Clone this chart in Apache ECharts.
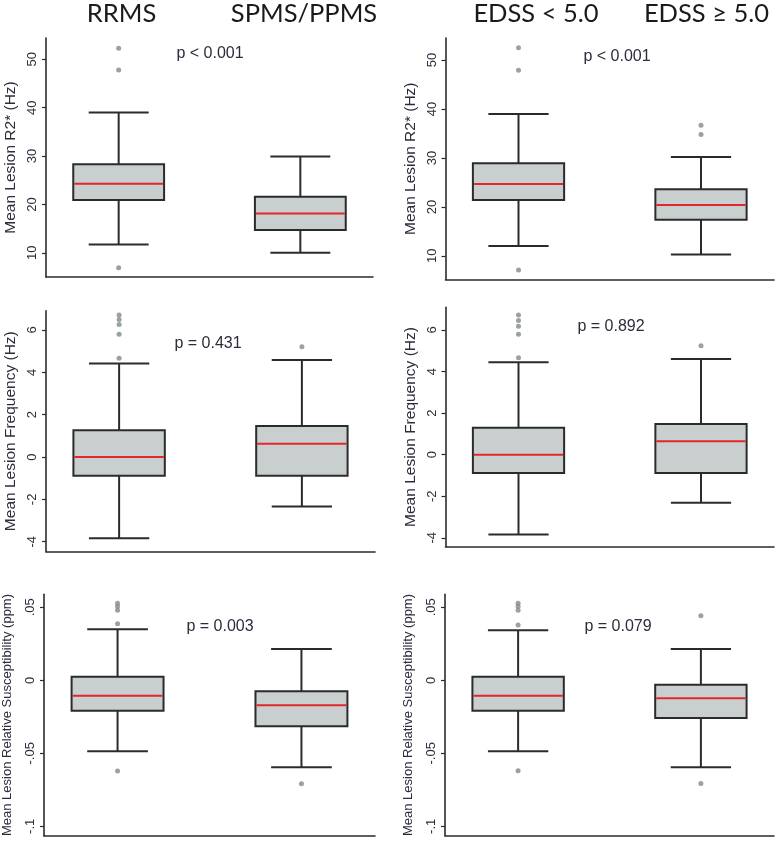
<!DOCTYPE html>
<html>
<head>
<meta charset="utf-8">
<script src="https://cdn.jsdelivr.net/npm/echarts@6/dist/echarts.min.js"></script>
<style>
html,body{margin:0;padding:0;background:#fff;}
#chart{width:776px;height:853px;}
</style>
</head>
<body>
<div id="chart"></div>
<script>
// ---- Data ----
const groupsLeft = ['RRMS', 'SPMS/PPMS'];
const groupsRight = ['EDSS < 5.0', 'EDSS \u2265 5.0'];
const groupPos = [1, 2];

// box stats: [lower whisker, Q1, median, Q3, upper whisker]
const r2Left = [[11.7, 20.9, 24.3, 28.3, 39.0], [10.0, 14.7, 18.1, 21.6, 29.9]];
const r2LeftOut = [[52.3, 47.8, 6.9], []];
const r2Right = [[12.0, 21.4, 24.7, 28.9, 39.0], [10.3, 17.4, 20.4, 23.6, 30.2]];
const r2RightOut = [[52.5, 47.9, 7.1], [36.7, 34.8]];

const freqLeft = [[-3.84, -0.88, 0.0, 1.26, 4.42], [-2.33, -0.88, 0.63, 1.46, 4.58]];
const freqLeftOut = [[6.71, 6.49, 6.26, 5.80, 4.66], [5.21]];
const freqRight = [[-3.84, -0.88, 0.0, 1.29, 4.44], [-2.32, -0.88, 0.65, 1.47, 4.60]];
const freqRightOut = [[6.72, 6.46, 6.18, 5.79, 4.66], [5.24]];

const suscLeft = [[-0.0486, -0.0208, -0.0105, 0.0025, 0.0349], [-0.0596, -0.0315, -0.0171, -0.0075, 0.0214]];
const suscLeftOut = [[0.0527, 0.0505, 0.0480, 0.0388, -0.0621], [-0.0708]];
const suscRight = [[-0.0486, -0.0208, -0.0105, 0.0025, 0.0342], [-0.0596, -0.0258, -0.0123, -0.0030, 0.0214]];
const suscRightOut = [[0.0527, 0.0505, 0.0480, 0.0379, -0.0619], [0.0442, -0.0706]];

const pValues = ['p < 0.001', 'p < 0.001', 'p = 0.431', 'p = 0.892', 'p = 0.003', 'p = 0.079'];

const r2Ticks = [10, 20, 30, 40, 50];
const r2TickLabels = ['10', '20', '30', '40', '50'];
const freqTicks = [-4, -2, 0, 2, 4, 6];
const freqTickLabels = ['-4', '-2', '0', '2', '4', '6'];
const suscTicks = [-0.1, -0.05, 0, 0.05];
const suscTickLabels = ['-.1', '-.05', '0', '.05'];

const yTitles = ['Mean Lesion R2* (Hz)', 'Mean Lesion Frequency (Hz)', 'Mean Lesion Relative Susceptibility (ppm)'];

// ---- Layout (not data) ----
const panels = [
  {box: r2Left, out: r2LeftOut, ticks: r2Ticks, labels: r2TickLabels, title: 0, grid: {left: 46, top: 38, width: 327, height: 239}, y: [5.0, 54.4], p: [210, 54]},
  {box: r2Right, out: r2RightOut, ticks: r2Ticks, labels: r2TickLabels, title: 0, grid: {left: 445.5, top: 38, width: 328.5, height: 241.5}, y: [5.17, 54.5], p: [617, 57]},
  {box: freqLeft, out: freqLeftOut, ticks: freqTicks, labels: freqTickLabels, title: 1, grid: {left: 46, top: 310.7, width: 329, height: 241}, y: [-4.47, 6.91], p: [208, 344]},
  {box: freqRight, out: freqRightOut, ticks: freqTicks, labels: freqTickLabels, title: 1, grid: {left: 445.5, top: 307.3, width: 328.5, height: 239.4}, y: [-4.43, 7.09], p: [611, 327]},
  {box: suscLeft, out: suscLeftOut, ticks: suscTicks, labels: suscTickLabels, title: 2, grid: {left: 43.5, top: 594.3, width: 331.5, height: 241.4}, y: [-0.1064, 0.0589], p: [220, 627]},
  {box: suscRight, out: suscRightOut, ticks: suscTicks, labels: suscTickLabels, title: 2, grid: {left: 445, top: 594.3, width: 329, height: 241.4}, y: [-0.1064, 0.0589], p: [618, 627]}
];

const BOX_W = 0.5, CAP_W = 0.33;
const axisColor = '#2b2b2b';
const textColor = '#2c2d3c';

const grids = [], xAxes = [], yAxes = [], series = [];
panels.forEach((pn, i) => {
  grids.push(Object.assign({containLabel: false}, pn.grid));
  xAxes.push({
    type: 'value', gridIndex: i, min: 0.6, max: 2.4,
    axisLine: {show: true, onZero: false, lineStyle: {color: axisColor, width: 1.6}},
    axisTick: {show: false}, axisLabel: {show: false}, splitLine: {show: false}
  });
  yAxes.push({
    type: 'value', gridIndex: i, min: pn.y[0], max: pn.y[1],
    name: yTitles[pn.title], nameLocation: 'middle', nameGap: pn.title === 2 ? 30 : 27,
    nameTextStyle: {fontFamily: 'Liberation Sans', fontSize: pn.title === 2 ? 13 : 15.5, color: textColor},
    axisLine: {show: true, onZero: false, lineStyle: {color: axisColor, width: 1.6}},
    axisTick: {show: true, length: 4, customValues: pn.ticks, lineStyle: {color: axisColor, width: 1.2}},
    axisLabel: {
      show: true, rotate: 90, margin: 7, fontFamily: 'Liberation Sans', fontSize: 13, color: textColor,
      customValues: pn.ticks,
      formatter: function (v) {
        for (let k = 0; k < pn.ticks.length; k++) if (Math.abs(pn.ticks[k] - v) < 1e-9) return pn.labels[k];
        return '';
      }
    },
    splitLine: {show: false}
  });
  const boxData = pn.box.map((b, j) => [groupPos[j]].concat(b));
  series.push({
    type: 'custom', xAxisIndex: i, yAxisIndex: i,
    data: boxData,
    encode: {x: 0, y: [1, 2, 3, 4, 5]},
    renderItem: function (params, api) {
      const x = api.value(0);
      const lo = api.coord([x, api.value(1)]);
      const q1 = api.coord([x, api.value(2)]);
      const md = api.coord([x, api.value(3)]);
      const q3 = api.coord([x, api.value(4)]);
      const hi = api.coord([x, api.value(5)]);
      const bw = api.size([BOX_W, 0])[0];
      const cw = api.size([CAP_W, 0])[0];
      const cx = lo[0];
      const ls = {stroke: axisColor, lineWidth: 2};
      return {
        type: 'group',
        children: [
          {type: 'line', shape: {x1: cx, y1: hi[1], x2: cx, y2: q3[1]}, style: ls},
          {type: 'line', shape: {x1: cx, y1: q1[1], x2: cx, y2: lo[1]}, style: ls},
          {type: 'line', shape: {x1: cx - cw / 2, y1: hi[1], x2: cx + cw / 2, y2: hi[1]}, style: ls},
          {type: 'line', shape: {x1: cx - cw / 2, y1: lo[1], x2: cx + cw / 2, y2: lo[1]}, style: ls},
          {type: 'rect', shape: {x: cx - bw / 2, y: q3[1], width: bw, height: q1[1] - q3[1]},
            style: {fill: '#c8cfce', stroke: axisColor, lineWidth: 2}},
          {type: 'line', shape: {x1: cx - bw / 2 + 1, y1: md[1], x2: cx + bw / 2 - 1, y2: md[1]},
            style: {stroke: '#e3262b', lineWidth: 2}}
        ]
      };
    },
    silent: true
  });
  const outData = [];
  pn.out.forEach((arr, j) => arr.forEach(v => outData.push([groupPos[j], v])));
  series.push({
    type: 'scatter', xAxisIndex: i, yAxisIndex: i, data: outData,
    symbol: 'circle', symbolSize: 5, itemStyle: {color: '#7f8989'}, silent: true
  });
});

const graphics = [];
const headerStyle = {fontFamily: 'Lato', fontSize: 25.5, fill: '#1a1a1a'};
[[121.5, groupsLeft[0]], [304, groupsLeft[1]], [536, groupsRight[0]], [706.5, groupsRight[1]]].forEach(h => {
  graphics.push({type: 'text', x: h[0], y: 14, style: Object.assign({text: h[1], align: 'center', verticalAlign: 'middle'}, headerStyle)});
});
panels.forEach((pn, i) => {
  graphics.push({type: 'text', x: pn.p[0], y: pn.p[1],
    style: {text: pValues[i], align: 'center', verticalAlign: 'middle', fontFamily: 'Liberation Sans', fontSize: 16, fill: textColor}});
});

const chart = echarts.init(document.getElementById('chart'));
chart.setOption({
  animation: false,
  backgroundColor: '#ffffff',
  grid: grids, xAxis: xAxes, yAxis: yAxes, series: series,
  graphic: graphics
});
</script>
</body>
</html>
